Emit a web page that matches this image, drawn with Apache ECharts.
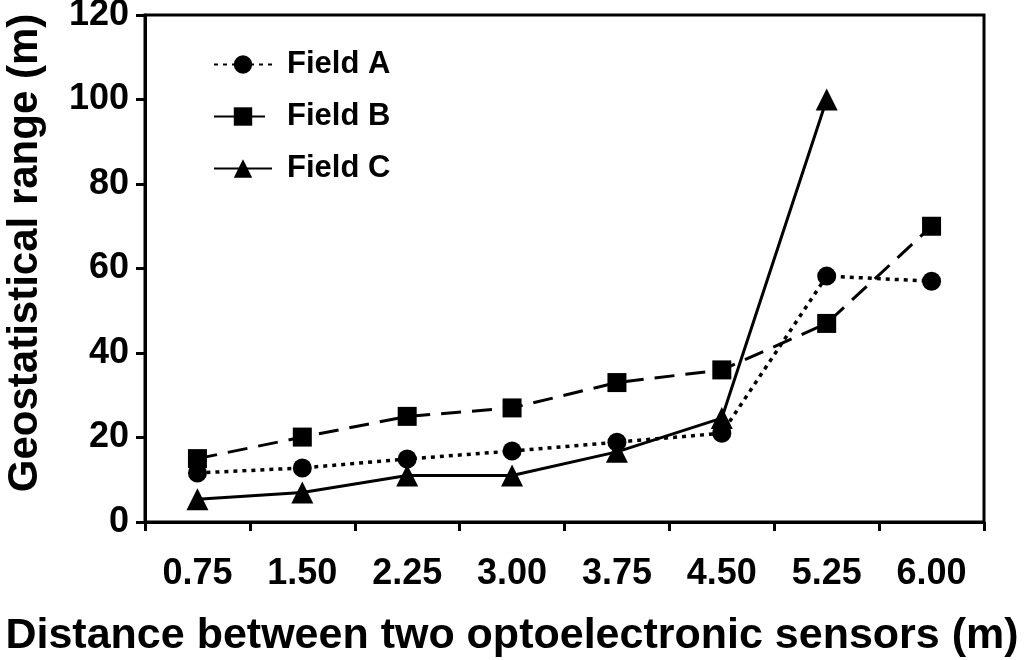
<!DOCTYPE html>
<html><head><meta charset="utf-8">
<script src="https://cdn.jsdelivr.net/npm/echarts@6/dist/echarts.min.js"></script>
<style>html,body{margin:0;padding:0;background:#fff}#c{width:1024px;height:660px}</style>
</head><body><div id="c"></div>
<script>
var categories = ['0.75','1.50','2.25','3.00','3.75','4.50','5.25','6.00'];
var fieldA = [11.6, 12.8, 14.9, 16.8, 18.9, 21, 58.2, 57];
var fieldB = [15, 20.1, 25, 27, 33, 36, 47, 70];
var fieldC = [5.4, 7, 11, 11, 16.6, 24.6, 100, null];
var yTicks = {min: 0, max: 120, interval: 20};
var xTitle = 'Distance between two optoelectronic sensors (m)';
var yTitle = 'Geostatistical range (m)';

var font = 'Liberation Sans, Arial, sans-serif';
var chart = echarts.init(document.getElementById('c'));
chart.setOption({
  animation: false,
  backgroundColor: '#fff',
  grid: {left: 145, right: 40, top: 15, bottom: 138, show: true, borderColor: '#000', borderWidth: 3,
         backgroundColor: 'transparent', outerBoundsMode: 'none', containLabel: false},
  legend: {
    left: 208, top: 44, orient: 'vertical', itemGap: 21, itemWidth: 58, itemHeight: 23,
    textStyle: {fontFamily: font, fontWeight: 'bold', fontSize: 31, color: '#000', padding: [0,0,0,10]},
    data: ['Field A','Field B','Field C']
  },
  graphic: [
    {type: 'text', left: 'center', top: 615,
     style: {text: xTitle, font: 'bold 43px ' + font, fill: '#000'}},
    {type: 'text', x: 4, y: 253, rotation: Math.PI / 2,
     style: {text: yTitle, font: 'bold 42px ' + font, fill: '#000', align: 'center', verticalAlign: 'top'}}
  ],
  xAxis: {
    type: 'category', data: categories, boundaryGap: true,
    axisLine: {lineStyle: {color: '#000', width: 3}},
    axisTick: {show: true, length: 9, lineStyle: {width: 3, color: '#000'}},
    axisLabel: {fontFamily: font, fontWeight: 'bold', fontSize: 36, color: '#000', margin: 34},
    splitLine: {show: false}
  },
  yAxis: {
    type: 'value', min: yTicks.min, max: yTicks.max, interval: yTicks.interval,
    axisLine: {show: true, lineStyle: {color: '#000', width: 3}},
    axisTick: {show: true, length: 9, lineStyle: {width: 3, color: '#000'}},
    axisLabel: {fontFamily: font, fontWeight: 'bold', fontSize: 36, color: '#000', margin: 16},
    splitLine: {show: false}
  },
  series: [
    {name: 'Field A', type: 'line', data: fieldA, symbol: 'circle', symbolSize: 19,
     itemStyle: {color: '#000'}, lineStyle: {color: '#000', width: 3.5, type: [4,5]}},
    {name: 'Field B', type: 'line', data: fieldB, symbol: 'rect', symbolSize: 19,
     itemStyle: {color: '#000'}, lineStyle: {color: '#000', width: 3, type: [20,11]}},
    {name: 'Field C', type: 'line', data: fieldC, symbol: 'triangle', symbolSize: 22,
     itemStyle: {color: '#000'}, lineStyle: {color: '#000', width: 3, type: 'solid'}}
  ]
});
</script></body></html>
